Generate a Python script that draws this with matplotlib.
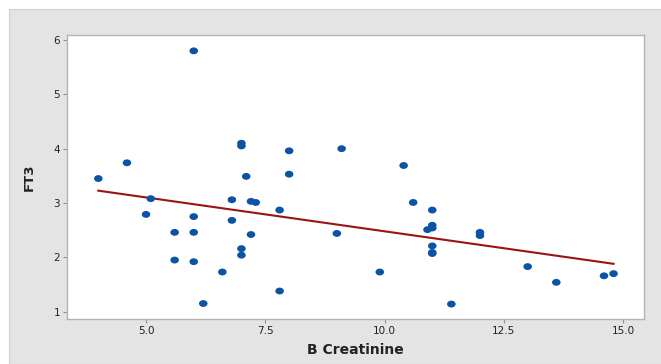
import numpy as np
import matplotlib
matplotlib.use('Agg')
import matplotlib.pyplot as plt
from matplotlib.patches import Rectangle
from matplotlib.path import Path

creatinine = [4.0, 4.6, 5.1, 5.0, 6.0, 5.6, 5.6, 6.0, 6.0, 6.0, 6.2, 6.6, 6.8, 6.8,
              7.0, 7.0, 7.1, 7.2, 7.3, 7.2, 7.0, 7.0, 7.8, 7.8, 8.0, 8.0,
              9.1, 9.0, 9.9, 10.4, 10.6, 11.0, 10.9, 11.0, 11.0, 11.0, 11.0, 11.0,
              11.4, 12.0, 12.0, 13.0, 13.6, 14.6, 14.8]
ft3 = [3.45, 3.74, 3.08, 2.79, 5.80, 2.46, 1.95, 2.75, 2.46, 1.92, 1.15, 1.73, 3.06, 2.68,
       4.10, 4.05, 3.49, 3.03, 3.01, 2.42, 2.16, 2.04, 2.87, 1.38, 3.96, 3.53,
       4.00, 2.44, 1.73, 3.69, 3.01, 2.87, 2.51, 2.59, 2.54, 2.21, 2.09, 2.07,
       1.14, 2.46, 2.40, 1.83, 1.54, 1.66, 1.70]

x = np.array(creatinine)
y = np.array(ft3)
slope, intercept = np.polyfit(x, y, 1)

# slightly flattened dot, like the stretched original
circ = Path.unit_circle()
ellipse = Path(circ.vertices * [1.0, 0.8], circ.codes)

fig = plt.figure(figsize=(6.61, 3.64), dpi=100)
fig.patch.set_facecolor('white')
# grey panel behind the plot area
fig.patches.append(Rectangle((9 / 661, 0), 1, 1 - 9 / 364, transform=fig.transFigure,
                             facecolor='#E4E4E4', edgecolor='#D0D0D0', lw=0.8, zorder=-5))

ax = fig.add_axes([0.1014, 0.1236, 0.873, 0.780])
ax.set_zorder(5)
ax.set_facecolor('white')

xs = np.array([x.min(), x.max()])
ax.plot(xs, intercept + slope * xs, color='#9B1414', lw=1.5, zorder=2)
ax.scatter(x, y, s=38, marker=ellipse, color='#0B53A4', edgecolors='none', zorder=3)

ax.set_xlim(3.344, 15.44)
ax.set_ylim(0.865, 6.09)
ax.set_xticks([5.0, 7.5, 10.0, 12.5, 15.0])
ax.set_xticklabels(['5.0', '7.5', '10.0', '12.5', '15.0'])
ax.set_yticks([1, 2, 3, 4, 5, 6])

for s in ax.spines.values():
    s.set_color('#B4B4B4')
    s.set_linewidth(1.0)
ax.tick_params(direction='out', length=3, width=0.8, color='#909090',
               labelsize=7.5, labelcolor='#222222', pad=2)

ax.set_xlabel('B Creatinine', fontsize=10, fontweight='bold', color='#222222', labelpad=5)
ax.set_ylabel('FT3', fontsize=9.5, fontweight='bold', color='#222222', labelpad=13)

plt.savefig('out.png', dpi=100, facecolor=fig.get_facecolor())
